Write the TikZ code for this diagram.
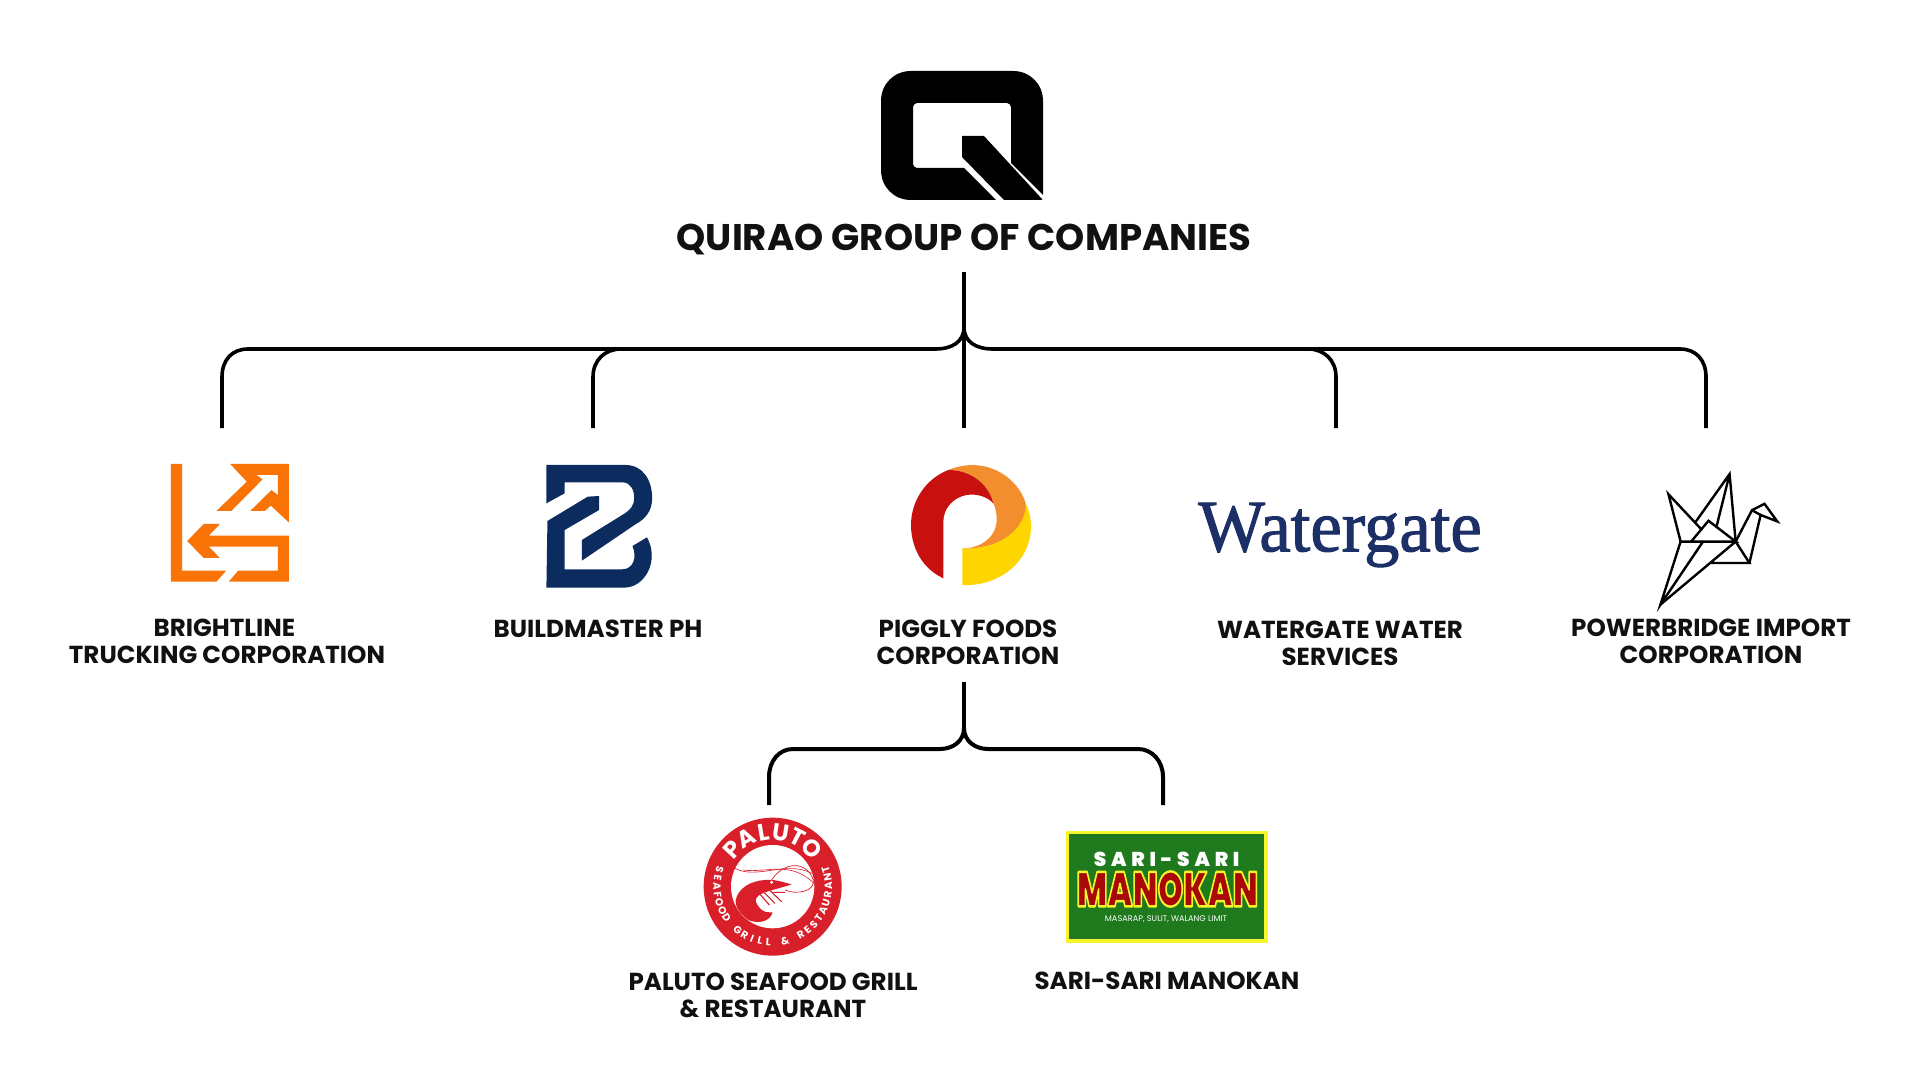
\documentclass[tikz,border=0pt]{standalone}
\usepackage{fontspec}
\usepackage{graphicx}
\usetikzlibrary{calc}
\setmainfont{Poppins}
\newfontfamily\wgfont[FakeBold=1.4]{Liberation Serif}
\newfontfamily\heavyfont{Poppins Black}
\definecolor{inkc}{HTML}{111111}
\definecolor{orangeL}{HTML}{F97306}
\definecolor{navyB}{HTML}{0C2C5F}
\definecolor{redP}{HTML}{C8100F}
\definecolor{orangeP}{HTML}{F28E2E}
\definecolor{yellowP}{HTML}{FFD500}
\definecolor{navyW}{HTML}{1C2F66}
\definecolor{redS}{HTML}{D81F2A}
\definecolor{greenM}{HTML}{1F7A1E}
\definecolor{yellowM}{HTML}{F5F52A}
\definecolor{redM}{HTML}{A80808}
\tikzset{
  conn/.style={draw=black,line width=1.8pt,line cap=butt,line join=round},
  connlow/.style={draw=black,line width=2pt,line cap=butt,line join=round},
  connthin/.style={draw=black,line width=1.6pt},
  lbl/.style={text=inkc,align=center,inner sep=0pt,font=\fontsize{12.3pt}{13.6pt}\selectfont\bfseries},
  ttl/.style={text=inkc,align=center,inner sep=0pt,font=\fontsize{18.55pt}{22pt}\selectfont\bfseries},
  crane/.style={draw=black,line width=1.2pt,line join=miter,line cap=round},
  mtxt/.style={text=white,inner sep=0pt},
  ringbig/.style={text=white,inner sep=0pt,font=\fontsize{11.8pt}{12pt}\selectfont\bfseries},
  ringsmall/.style={text=white,inner sep=0pt,font=\fontsize{5.2pt}{5.5pt}\selectfont\bfseries}
}
\begin{document}
\begin{tikzpicture}[x=0.5pt,y=-0.5pt]
\useasboundingbox (0,0) rectangle (1920,1080);
\fill[white] (0,0) rectangle (1920,1080);

% connector ends
\coordinate (trunk) at (964,272);
\coordinate (hub) at (964,327);
\coordinate (c1) at (222,428);
\coordinate (c2) at (593,428);
\coordinate (c3) at (964,428);
\coordinate (c4) at (1336,428);
\coordinate (c5) at (1706,428);
\coordinate (trunkB) at (964,682);
\coordinate (hubB) at (964,728);
\coordinate (d1) at (769,805);
\coordinate (d2) at (1163,805);

\draw[conn] (trunk) -- (hub);
\draw[connthin] (hub) -- (c3);
\draw[conn] (hub) .. controls (964,342) and (952,349) .. (935,349) -- (248,349) .. controls (232,349) and (222,360) .. (222,377) -- (c1);
\draw[conn] (hub) .. controls (964,342) and (976,349) .. (993,349) -- (1680,349) .. controls (1696,349) and (1706,360) .. (1706,377) -- (c5);
\draw[conn] (621,349) .. controls (605,349) and (593,360) .. (593,377) -- (c2);
\draw[conn] (1308,349) .. controls (1324,349) and (1336,360) .. (1336,377) -- (c4);
\draw[connlow] (trunkB) -- (hubB);
\draw[connlow] (hubB) .. controls (964,741) and (953,749) .. (940,749) -- (793,749) .. controls (779,749) and (769,761) .. (769,777) -- (d1);
\draw[connlow] (hubB) .. controls (964,741) and (975,749) .. (988,749) -- (1138,749) .. controls (1152,749) and (1163,761) .. (1163,777) -- (d2);

% Q logo
\fill[black,even odd rule]
  (911,71) -- (1013,71) .. controls (1030,71) and (1043,84) .. (1043,101) -- (1043,195) -- (1011,163) -- (1011,107) .. controls (1011,105) and (1009,103) .. (1007,103)
  -- (917,103) .. controls (915,103) and (913,105) .. (913,107) -- (913,164) .. controls (913,166) and (915,168) .. (917,168)
  -- (964,168) -- (996,200) -- (911,200) .. controls (894,200) and (881,187) .. (881,170) -- (881,101) .. controls (881,84) and (894,71) .. (911,71) -- cycle;
\fill[black] (962,136) -- (984,136) -- (1042,199) -- (1042,200) -- (1004,200) -- (962,157) -- cycle;

\node[ttl] (title) at (964,239.5) {QUIRAO GROUP OF COMPANIES};

% Brightline logo
\begin{scope}[shift={(140,440)},xscale=0.3444,yscale=0.3333]
\fill[orangeL] (90,72) -- (122,72) -- (122,392) -- (250,392) -- (222,425) -- (90,425) -- cycle;
\fill[orangeL] (258,425) -- (285,392) -- (400,392) -- (400,320) -- (200,320) -- (232,354) -- (185,354) -- (137,303) -- (185,252) -- (232,252) -- (200,287) -- (432,287) -- (432,425) -- cycle;
\fill[orangeL] (262,72) -- (432,72) -- (432,247) -- (380,197) -- (362,213) -- (320,213) -- (382,150) -- (400,165) -- (400,105) -- (338,105) -- (356,118) -- (265,213) -- (222,213) -- (310,125) -- cycle;
\end{scope}

% Buildmaster logo
\begin{scope}[shift={(140,440)},xscale=0.3444,yscale=0.3333]
\fill[navyB] (1180,75) -- (1410,75) .. controls (1460,75) and (1487,120) .. (1487,175) .. controls (1487,215) and (1465,238) .. (1440,252) -- (1283,362) -- (1283,300) -- (1400,225) .. controls (1425,210) and (1435,195) .. (1435,175) .. controls (1435,150) and (1425,127) .. (1400,127) -- (1233,127) -- (1233,160) -- (1180,190) -- cycle;
\fill[navyB] (1183,243) -- (1300,170) -- (1333,168) -- (1333,210) -- (1233,270) -- (1233,388) -- (1400,388) .. controls (1430,388) and (1445,355) .. (1430,318) -- (1472,292) .. controls (1490,325) and (1490,365) .. (1475,395) .. controls (1460,425) and (1435,443) .. (1405,443) -- (1180,443) -- cycle;
\end{scope}

% Piggly logo
\begin{scope}[shift={(880,440)},xscale=0.3333,yscale=0.3333]
\fill[yellowP] (247,325) .. controls (330,330) and (425,290) .. (437,190) .. controls (455,225) and (458,270) .. (445,310) .. controls (420,390) and (335,440) .. (247,435) -- cycle;
\fill[orangeP] (205,90) .. controls (265,65) and (330,72) .. (380,110) .. controls (410,133) and (428,160) .. (437,190) .. controls (440,260) and (365,330) .. (247,325) .. controls (310,325) and (352,285) .. (350,235) .. controls (350,215) and (345,200) .. (340,190) .. controls (325,130) and (270,90) .. (205,90) -- cycle;
\fill[redP] (190,415) .. controls (125,385) and (93,320) .. (93,255) .. controls (93,180) and (140,115) .. (205,90) .. controls (270,90) and (325,130) .. (340,190) .. controls (322,170) and (290,160) .. (260,165) .. controls (220,172) and (190,205) .. (190,245) -- cycle;
\end{scope}

% Watergate logo
\node[inner sep=0pt,text=navyW] (wg) at (1340,535) {\scalebox{0.955}[1]{\wgfont\fontsize{37pt}{40pt}\selectfont Watergate}};

% Crane logo
\begin{scope}[shift={(1653.4,468.6)},xscale=0.32,yscale=0.32]
\draw[crane] (133,165) -- (238,17) -- (257,228) (238,17) -- (198,178);
\draw[crane] (150,190) -- (47,80) -- (85,228) -- (22,425) -- (155,228);
\draw[crane] (118,228) -- (172,163) -- (257,228) -- (85,228);
\draw[crane] (22,425) -- (257,228) -- (300,295) -- (178,295);
\draw[crane] (257,228) -- (308,130) -- (347,110) -- (387,165) -- (335,145) -- (300,295);
\draw[crane] (308,130) -- (335,145);
\end{scope}

% Labels
\node[lbl] (l1) at (227,641) {BRIGHTLINE\kern 2.5pt\\TRUCKING CORPORATION};
\node[lbl] (l2) at (598,629) {BUILDMASTER PH};
\node[lbl] (l3) at (968,642) {PIGGLY FOODS\\CORPORATION};
\node[lbl] (l4) at (1340,643) {WATERGATE WATER\\SERVICES};
\node[lbl] (l5) at (1711,641) {POWERBRIDGE IMPORT\\CORPORATION};
\node[lbl] (l6) at (773,995) {PALUTO SEAFOOD GRILL\\\& RESTAURANT};
\node[lbl] (l7) at (1167,981) {SARI-SARI MANOKAN};

% Paluto logo
\begin{scope}[shift={(690,805)},xscale=0.3333,yscale=0.3333]
\fill[redS] (248,245) circle (207);
\fill[white] (248,245) circle (125);
% shrimp
\fill[redS] (305,238) .. controls (280,232) and (255,222) .. (225,225) .. controls (180,228) and (145,250) .. (137,285) .. controls (135,310) and (155,330) .. (175,345) .. controls (205,358) and (240,350) .. (248,322) .. controls (232,322) and (222,322) .. (212,312) .. controls (198,296) and (190,285) .. (205,272) .. controls (225,258) and (265,252) .. (305,238) -- cycle;
\draw[redS,line width=0.35pt] (245,225) .. controls (280,170) and (350,165) .. (370,225) .. controls (375,260) and (320,270) .. (285,255);
\draw[redS,line width=0.3pt] (135,190) .. controls (200,225) and (290,165) .. (365,205);
\draw[redS,line width=0.3pt] (160,195) .. controls (230,205) and (300,165) .. (372,235);
\draw[redS,line width=0.55pt] (205,262) -- (238,300) (218,258) -- (255,295) (235,252) -- (275,290) (250,262) -- (285,262);
\fill[white] (245,232) circle (5);
\foreach \ch [count=\i] in {P,A,L,U,T,O} {
  \pgfmathsetmacro{\ang}{223+(\i-1)*18.6}
  \pgfmathsetmacro{\rot}{270-\ang}
  \node[ringbig,rotate=\rot] (rb\i) at ($(248,245)+(\ang:165)$) {\ch};
}
\foreach \ch [count=\i] in {S,E,A,F,O,O,D,{},G,R,I,L,L,{},\&,{},R,E,S,T,A,U,R,A,N,T} {
  \pgfmathsetmacro{\ang}{198-(\i-1)*8.64}
  \pgfmathsetmacro{\rot}{90-\ang}
  \node[ringsmall,rotate=\rot] (rs\i) at ($(248,245)+(\ang:167)$) {\ch};
}
\end{scope}

% Sari-sari logo
\begin{scope}[shift={(1050,820)},xscale=0.3333,yscale=0.3333]
\fill[yellowM] (48,33) rectangle (653,368);
\fill[greenM] (58,42) rectangle (643,358);
\node[mtxt] (m1) at (350,117) {\fontsize{10pt}{10pt}\selectfont\heavyfont\addfontfeature{LetterSpace=24}SARI-SARI};
\node[inner sep=0pt,text=redM] (m2) at (352,207) {\scalebox{0.6}[0.9]{\fontsize{27pt}{28pt}\selectfont\heavyfont\special{pdf:literal direct 0.96 0.96 0.16 RG 1.3 w 1 j 2 Tr}MANOKAN\special{pdf:literal direct 0 Tr}}};
\node[mtxt] (m3) at (348,298) {\fontsize{4.1pt}{4.5pt}\selectfont MASARAP, SULIT, WALANG LIMIT};
\end{scope}
\end{tikzpicture}
\end{document}
